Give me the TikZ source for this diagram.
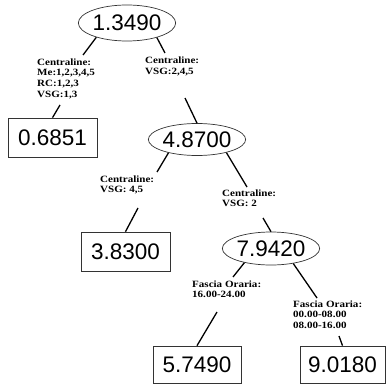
\documentclass[tikz,border=0pt]{standalone}
\usepackage{fontspec}
\setmainfont{Liberation Serif}
\newfontfamily\numfont{Liberation Sans}
\newfontfamily\labfont[FakeStretch=1.15]{Liberation Serif Bold}
\usetikzlibrary{shapes.geometric}
\tikzset{
  valell/.style={ellipse, draw=black!80, line width=0.7pt, inner sep=0pt, font={\numfont\fontsize{22.5}{24}\selectfont}},
  valbox/.style={rectangle, draw=black!80, line width=0.7pt, inner sep=0pt, font={\numfont\fontsize{22.5}{24}\selectfont}},
  lab/.style={anchor=north west, inner sep=0pt, align=left, font={\labfont\fontsize{9.6}{10.6}\selectfont}},
  conn/.style={line width=1.3pt, black}
}
\begin{document}
\begin{tikzpicture}[x=1pt,y=-1pt]
\useasboundingbox (0,0) rectangle (386,387);
% value nodes
\node[valell, minimum width=90pt, minimum height=36pt] (n1) at (127,23) {1.3490};
\node[valbox, minimum width=89pt, minimum height=39pt] (b1) at (52.5,137.5) {0.6851};
\node[valell, minimum width=89pt, minimum height=32pt] (n2) at (197,139.5) {4.8700};
\node[valbox, minimum width=89pt, minimum height=39pt] (b2) at (125.5,251.5) {3.8300};
\node[valell, minimum width=88pt, minimum height=33pt] (n3) at (271,248.5) {7.9420};
\node[valbox, minimum width=88pt, minimum height=37pt] (b3) at (197,364.5) {5.7490};
\node[valbox, minimum width=85pt, minimum height=37pt] (b4) at (342.5,364.5) {9.0180};
% labels
\node[lab] (l1) at (37,58.5) {Centraline:\\Me:1,2,3,4,5\\RC:1,2,3\\VSG:1,3};
\node[lab] (l2) at (145,57) {Centraline:\\VSG:2,4,5};
\node[lab] (l3) at (100,175.5) {Centraline:\\VSG: 4,5};
\node[lab] (l4) at (222,189.5) {Centraline:\\VSG: 2};
\node[lab] (l5) at (192,280.5) {Fascia Oraria:\\16.00-24.00};
\node[lab] (l6) at (293,300.5) {Fascia Oraria:\\00.00-08.00\\08.00-16.00};
% connector free ends
\coordinate (c1a) at (83,55);   \coordinate (c1b) at (60,105);
\coordinate (c2a) at (165,53);  \coordinate (c2b) at (185,98);
\coordinate (c3a) at (157,172); \coordinate (c3b) at (138,208);
\coordinate (c4a) at (247,187); \coordinate (c4b) at (263,218);
\coordinate (c5a) at (233,277); \coordinate (c5b) at (217,312);
\coordinate (c6a) at (317,298); \coordinate (c6b) at (339,336);
% connectors
\draw[conn] (n1.205) -- (c1a);
\draw[conn] (c1b) -- (b1.north);
\draw[conn] (n1.334) -- (c2a);
\draw[conn] (c2b) -- (n2.north);
\draw[conn] (n2.205) -- (c3a);
\draw[conn] (c3b) -- (b2.north);
\draw[conn] (n2.336) -- (c4a);
\draw[conn] (c4b) -- (n3.north);
\draw[conn] (n3.208) -- (c5a);
\draw[conn] (c5b) -- (b3.north);
\draw[conn] (n3.326) -- (c6a);
\draw[conn] (c6b) -- (b4.north);
\end{tikzpicture}
\end{document}
